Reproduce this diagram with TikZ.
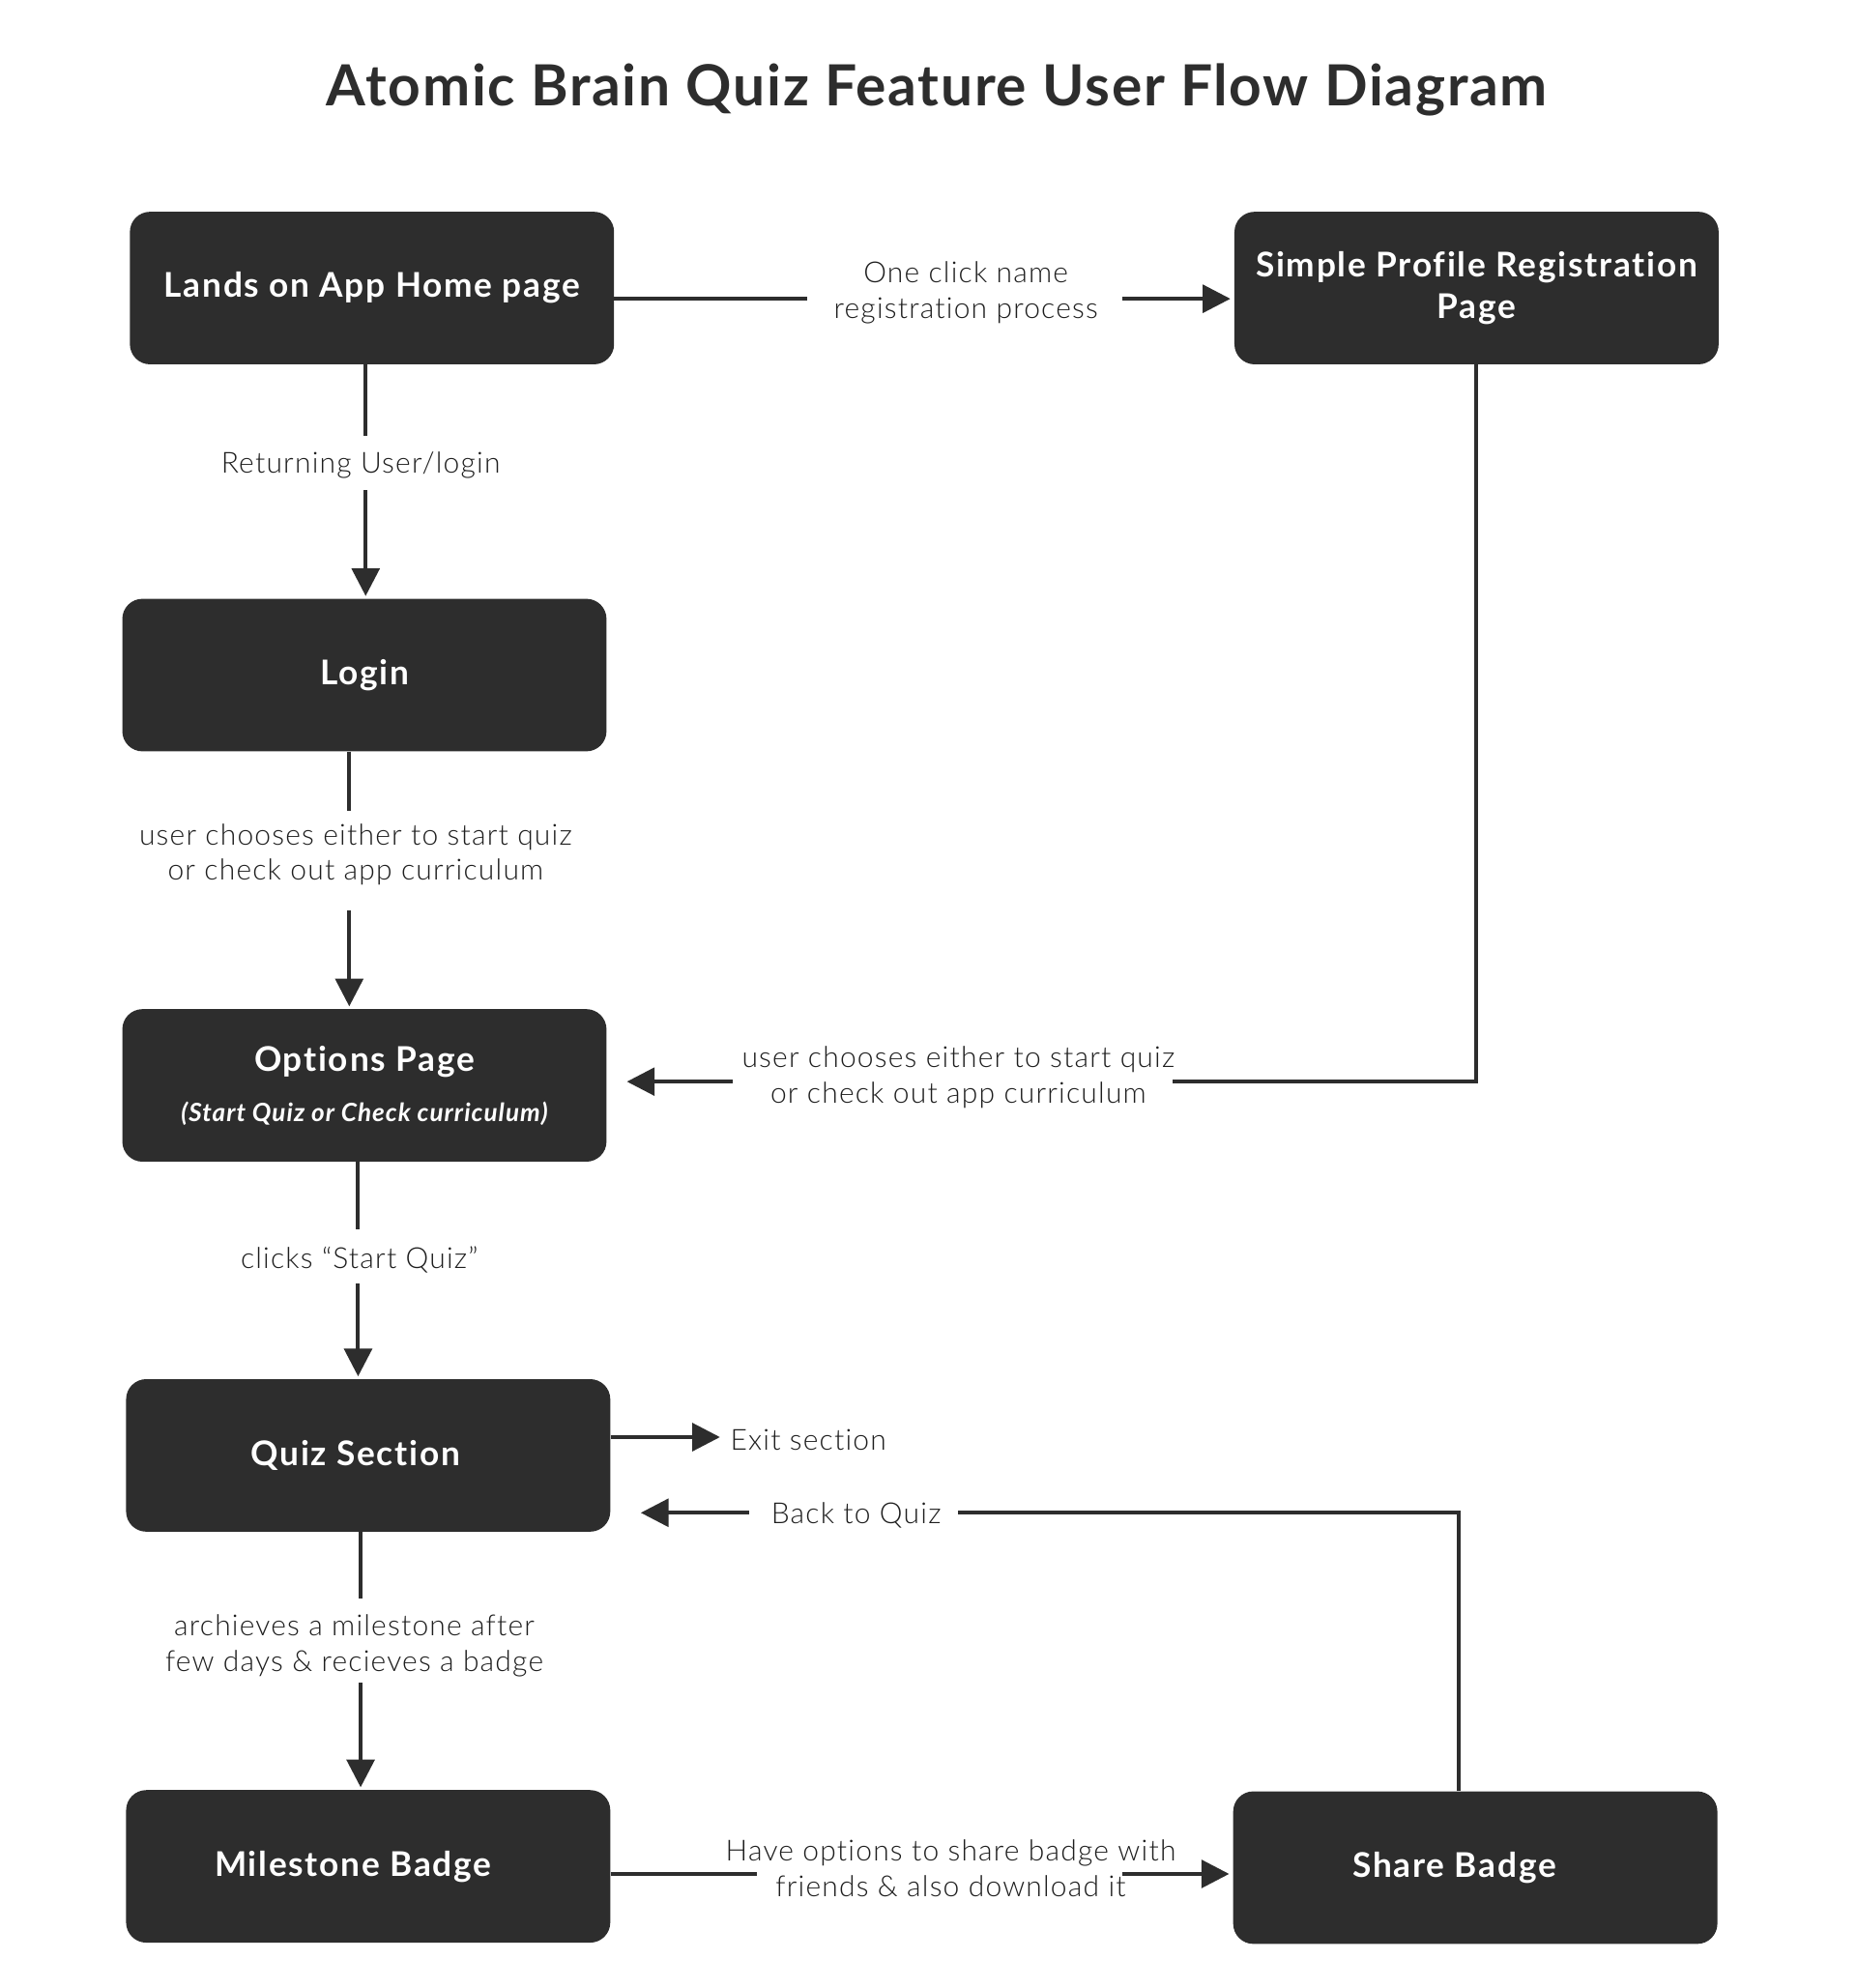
\documentclass[tikz,border=0pt]{standalone}
\usepackage{fontspec}
\setmainfont{Lato}
\newfontfamily\titlefont{Lato}[LetterSpace=3,Ligatures=NoCommon]
\newfontfamily\boxfont{Lato}[LetterSpace=5,Ligatures=NoCommon]
\newfontfamily\subfont{Lato}[LetterSpace=4,Ligatures=NoCommon]
\newfontfamily\lblfont{Lato Light}[LetterSpace=4,Ligatures=NoCommon]
\usetikzlibrary{arrows.meta,calc}
\definecolor{ink}{HTML}{2D2D2D}
\definecolor{txt}{HTML}{1E1E1E}
\begin{document}
\begin{tikzpicture}[x=1pt,y=-1pt,
  box/.style={fill=ink, rounded corners=16pt, minimum width=384pt, minimum height=121pt,
    text=white, font=\boxfont\bfseries\fontsize{27}{33}\selectfont, align=center, inner sep=0pt},
  conn/.style={draw=ink, line width=3pt},
  arr/.style={conn, -{Triangle[length=22pt,width=22pt]}},
  lbl/.style={text=txt, font=\lblfont\fontsize{23}{28}\selectfont, align=center, inner sep=0pt}]
\useasboundingbox (0,0) rectangle (1472,1577);
\node[font=\titlefont\bfseries\fontsize{45}{50}\selectfont, text=ink] (title) at (743,71) {Atomic Brain Quiz Feature User Flow Diagram};

% boxes
\node[box] (home) at (295,228.5) {Lands on App Home page};
\node[box] (reg) at (1171,228.5) {Simple Profile Registration\\Page};
\node[box] (login) at (289,535.5) {Login};
\node[box] (opt) at (289,861) {Options Page\\[7pt]{\subfont\bfseries\itshape\fontsize{20}{22}\selectfont (Start Quiz or Check curriculum)}};
\node[box] (quiz) at (292,1154.5) {Quiz Section\hspace*{20pt}};
\node[box] (mile) at (292,1480.5) {Milestone Badge\hspace*{24pt}};
\node[box] (share) at (1170,1481.5) {Share Badge\hspace*{33pt}};

% Home -> Registration
\coordinate (a1) at (640,237);
\coordinate (a2) at (890,237);
\node[lbl] (l1) at (766,232) {One click name\\registration process};
\draw[conn] (home.east |- a1) -- (a1);
\draw[arr, shorten >=3pt] (a2) -- (reg.west |- a2);

% Home -> Login
\coordinate (b1) at (290,346);
\coordinate (b2) at (290,389);
\node[lbl] (l2) at (286,369) {Returning User/login};
\draw[conn] (home.south -| b1) -- (b1);
\draw[arr, shorten >=2pt] (b2) -- (login.north -| b2);

% Login -> Options
\coordinate (c1) at (277,643);
\coordinate (c2) at (277,722);
\node[lbl] (l3) at (282,678) {user chooses either to start quiz\\or check out app curriculum};
\draw[conn] (login.south -| c1) -- (c1);
\draw[arr, shorten >=2pt] (c2) -- (opt.north -| c2);

% Registration -> Options
\coordinate (d0) at (1171,858);
\coordinate (d1) at (930,858);
\coordinate (d2) at (581,858);
\node[lbl] (l4) at (760,854.5) {user chooses either to start quiz\\or check out app curriculum};
\draw[conn] (reg.south) -- (d0) -- (d1);
\draw[arr, shorten >=16pt] (d2) -- (opt.east |- d2);

% Options -> Quiz
\coordinate (e1) at (284,975);
\coordinate (e2) at (284,1018);
\node[lbl] (l5) at (285,999) {clicks “Start Quiz”};
\draw[conn] (opt.south -| e1) -- (e1);
\draw[arr, shorten >=2pt] (e2) -- (quiz.north -| e2);

% Quiz -> Exit
\node[lbl, anchor=west] (exit) at (579,1142) {Exit section};
\draw[arr, shorten >=8pt] (quiz.east |- 0,1140) -- (exit.west |- 0,1140);

% Share -> Quiz
\coordinate (f0) at (1157,1200);
\coordinate (f1) at (760,1200);
\coordinate (f2) at (594,1200);
\node[lbl] (l6) at (679,1202) {Back to Quiz};
\draw[conn] (share.north -| f0) -- (f0) -- (f1);
\draw[arr, shorten >=24pt] (f2) -- (quiz.east |- f2);

% Quiz -> Milestone
\coordinate (g1) at (286,1268);
\coordinate (g2) at (286,1335);
\node[lbl] (l7) at (281,1305.5) {archieves a milestone after\\few days \& recieves a badge};
\draw[conn] (quiz.south -| g1) -- (g1);
\draw[arr, shorten >=2pt] (g2) -- (mile.north -| g2);

% Milestone -> Share
\coordinate (h1) at (600,1486.5);
\coordinate (h2) at (890,1486.5);
\node[lbl] (l8) at (754,1482) {Have options to share badge with\\friends \& also download it};
\draw[conn] (mile.east |- h1) -- (h1);
\draw[arr, shorten >=3pt] (h2) -- (share.west |- h2);
\end{tikzpicture}
\end{document}
